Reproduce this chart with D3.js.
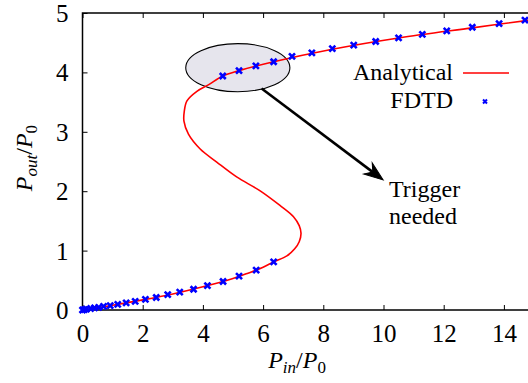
<!DOCTYPE html>
<html>
<head>
<meta charset="utf-8">
<script src="https://cdn.jsdelivr.net/npm/d3@7"></script>
</head>
<body style="margin:0;background:#fff">
<svg id="chart" width="528" height="383"></svg>
<script>
// analytical S-curve (P_in/P0, P_out/P0)
const analyticPin  = [0, 1, 2, 3, 4, 5, 5.5, 6, 6.35, 6.79, 7.05, 7.2, 7.26, 7.2, 7.01, 6.56, 5.89, 5.12, 4.46, 3.91, 3.52, 3.37, 3.38, 3.47, 3.8, 4.18, 4.66, 5.2, 6.35, 8.3, 10.5, 12.95, 15];
const analyticPout = [0, 0.08, 0.17, 0.27, 0.39, 0.53, 0.62, 0.72, 0.81, 0.91, 1.03, 1.15, 1.29, 1.42, 1.57, 1.76, 2.01, 2.24, 2.49, 2.71, 2.96, 3.18, 3.34, 3.52, 3.68, 3.79, 3.94, 4.03, 4.18, 4.39, 4.58, 4.75, 4.89];

// FDTD points: lower branch then upper branch
const fdtdPin  = [0, 0.06, 0.13, 0.27, 0.4, 0.54, 0.7, 0.92, 1.17, 1.45, 1.75, 2.09, 2.45, 2.83, 3.23, 3.69, 4.15, 4.67, 5.2, 5.77, 6.35,
                  4.66, 5.2, 5.76, 6.35, 6.96, 7.62, 8.3, 9.01, 9.74, 10.5, 11.29, 12.1, 12.95, 13.84, 14.7];
const fdtdPout = [0, 0.005, 0.015, 0.025, 0.035, 0.045, 0.06, 0.075, 0.095, 0.12, 0.145, 0.18, 0.21, 0.26, 0.3, 0.35, 0.41, 0.48, 0.57, 0.67, 0.81,
                  3.94, 4.03, 4.11, 4.18, 4.27, 4.33, 4.4, 4.46, 4.52, 4.58, 4.64, 4.7, 4.76, 4.82, 4.88];

const xTicks = [0, 2, 4, 6, 8, 10, 12, 14];
const yTicks = [0, 1, 2, 3, 4, 5];

const svg = d3.select("#chart");
const margin = {left: 82.5, top: 13, bottom: 73};
const x = d3.scaleLinear().domain([0, 15]).range([margin.left, margin.left + 15 * 30.1]);
const y = d3.scaleLinear().domain([0, 5]).range([310, margin.top]);

// highlighted region (drawn under the curve)
const ell = {cx: 5.16, cy: 4.08, rx: 1.73, ry: 0.405};
svg.append("ellipse")
    .attr("cx", x(ell.cx)).attr("cy", y(ell.cy))
    .attr("rx", x(ell.cx + ell.rx) - x(ell.cx))
    .attr("ry", y(ell.cy) - y(ell.cy + ell.ry))
    .attr("fill", "#e6e5ed").attr("stroke", "#000").attr("stroke-width", 1.1);

// frame
svg.append("path")
    .attr("d", `M${x(15)},${y(5)}H${x(0)}V${y(0)}H${x(15)}`)
    .attr("fill", "none").attr("stroke", "#000").attr("stroke-width", 1.5);

// axes with inward ticks
const gx = svg.append("g").attr("transform", `translate(0,${y(0)})`)
    .call(d3.axisBottom(x).tickValues(xTicks).tickFormat(d3.format("d")).tickSizeInner(-5).tickSizeOuter(0).tickPadding(14));
const gxTop = svg.append("g").attr("transform", `translate(0,${y(5)})`)
    .call(d3.axisTop(x).tickValues(xTicks).tickSizeInner(-5).tickSizeOuter(0).tickFormat(""));
const gy = svg.append("g").attr("transform", `translate(${x(0)},0)`)
    .call(d3.axisLeft(y).tickValues(yTicks).tickFormat(d3.format("d")).tickSizeInner(-5).tickSizeOuter(0).tickPadding(14));
[gx, gxTop, gy].forEach(g => {
    g.attr("font-family", null);
    g.select(".domain").remove();
    g.selectAll(".tick line").attr("stroke", "#000").attr("stroke-width", 1);
    g.selectAll("text").attr("font-size", 25).attr("fill", "#000");
});
gx.selectAll("text").attr("dy", "0.71em");
gy.selectAll("text").attr("dy", "0.34em");

// analytical curve
const line = d3.line().x(d => x(d[0])).y(d => y(d[1])).curve(d3.curveCatmullRom.alpha(0.5));
svg.append("path")
    .datum(analyticPin.map((p, i) => [p, analyticPout[i]]))
    .attr("d", line)
    .attr("fill", "none").attr("stroke", "#ff0000").attr("stroke-width", 1.6);

// FDTD markers
function cross(sel, s, w) {
    sel.append("path")
        .attr("d", `M${-s},${-s}L${s},${s}M${-s},${s}L${s},${-s}`)
        .attr("stroke", "#0000ff").attr("stroke-width", w).attr("fill", "none");
}
svg.append("g").selectAll("g")
    .data(fdtdPin.map((p, i) => [p, fdtdPout[i]]))
    .join("g")
    .attr("transform", d => `translate(${x(d[0])},${y(d[1])})`)
    .each(function() { cross(d3.select(this), 3, 2.6); });

// arrow
const arrowFrom = [5.95, 3.73], arrowTo = [9.99, 2.19];
const x1 = x(arrowFrom[0]), y1 = y(arrowFrom[1]), x2 = x(arrowTo[0]), y2 = y(arrowTo[1]);
const ang = Math.atan2(y2 - y1, x2 - x1);
svg.append("line")
    .attr("x1", x1).attr("y1", y1)
    .attr("x2", x2 - 8 * Math.cos(ang)).attr("y2", y2 - 8 * Math.sin(ang))
    .attr("stroke", "#000").attr("stroke-width", 2.6);
const head = [[0, 0], [-19, -7], [-13, 0], [-19, 7]];
svg.append("path")
    .attr("d", "M" + head.map(p => p.join(",")).join("L") + "Z")
    .attr("transform", `translate(${x2},${y2}) rotate(${ang * 180 / Math.PI})`)
    .attr("fill", "#000").attr("stroke", "#000").attr("stroke-width", 1).attr("stroke-linejoin", "miter");

// annotation
const note = svg.append("text").attr("x", 389).attr("y", 197).attr("font-size", 24);
note.append("tspan").text("Trigger");
note.append("tspan").attr("x", 389).attr("y", 224).text("needed");

// legend
svg.append("text").attr("x", 453).attr("y", 80).attr("text-anchor", "end").attr("font-size", 24).text("Analytical");
svg.append("line").attr("x1", 463).attr("x2", 509).attr("y1", 73).attr("y2", 73)
    .attr("stroke", "#ff0000").attr("stroke-width", 1.6);
svg.append("text").attr("x", 453).attr("y", 108).attr("text-anchor", "end").attr("font-size", 24).text("FDTD");
svg.append("g").attr("transform", "translate(485,101.5)").call(cross, 2, 2);

// axis titles
const xl = svg.append("text").attr("x", 297).attr("y", 368).attr("text-anchor", "middle")
    .attr("font-size", 24).attr("font-style", "italic");
xl.append("tspan").text("P");
xl.append("tspan").attr("font-size", 17).attr("dy", 5).text("in");
xl.append("tspan").attr("dy", -5).attr("font-style", "normal").text("/");
xl.append("tspan").text("P");
xl.append("tspan").attr("font-size", 17).attr("dy", 5).attr("font-style", "normal").text("0");

const yl = svg.append("text").attr("transform", "translate(32,158) rotate(-90)").attr("text-anchor", "middle")
    .attr("font-size", 24).attr("font-style", "italic");
yl.append("tspan").text("P");
yl.append("tspan").attr("font-size", 17).attr("dy", 5).text("out");
yl.append("tspan").attr("dy", -5).attr("font-style", "normal").text("/");
yl.append("tspan").text("P");
yl.append("tspan").attr("font-size", 17).attr("dy", 5).attr("font-style", "normal").text("0");

// all text in the serif face
svg.selectAll("text").attr("font-family", "Liberation Serif").style("font-family", '"Liberation Serif", Tinos, serif');
</script>
</body>
</html>
